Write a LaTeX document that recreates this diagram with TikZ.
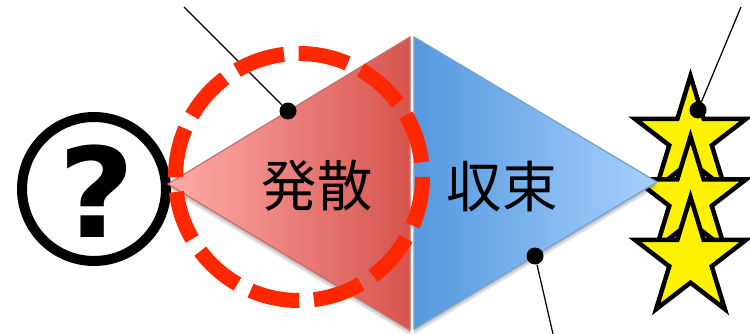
\documentclass[tikz,border=0pt]{standalone}
\usepackage{fontspec}
\newfontfamily\askfont[FakeStretch=1.06]{DejaVu Sans}
\newfontfamily\cjkfont{Noto Sans CJK JP}
\usetikzlibrary{shapes.geometric}
\begin{document}
\begin{tikzpicture}
[x=.02cm,y=-.02cm,
    vertex/.style={shape=circle,fill=black,inner sep=0pt,minimum size=.34cm},
    leader/.style={black,line width=.25mm},
    starnode/.style={star,star points=5,star point ratio=2.618,draw=black,fill=yellow,
        line width=.9mm,inner sep=0pt,minimum size=2.34cm,yscale=1.06,transform shape},
    asknode/.style={circle,draw=black,line width=2mm,inner sep=0pt,minimum size=2.88cm,
        font=\askfont\bfseries\fontsize{71}{71}\selectfont},
    wordnode/.style={inner sep=0pt,font=\cjkfont\fontsize{31.5}{31.5}\selectfont},
    ring/.style={draw={rgb,255:red,255;green,40;blue,0},line width=3mm,dash pattern=on 1cm off .293cm}]
\useasboundingbox (0,0) rectangle (750,334);
%%%%%%%%%%
%% question mark and stars
\node[asknode] (ask) at (94,189) {\kern.1cm\raisebox{-.98cm}[1cm][1cm]{?}};
\node[starnode] (star1) at (690.5,138) {};
\node[starnode] (star2) at (690.5,198.5) {};
\node[starnode] (star3) at (690.5,259) {};
%% soft shadows
\foreach \d in {1,2,3,4,5,6}
    \fill[black,opacity=.05] (168,184+\d) -- (410,37+\d) -- (410,330+\d) -- cycle;
\foreach \d in {1,2,3,4,5,6}
    \fill[black,opacity=.05] (657,182+\d) -- (414,37+\d) -- (414,329+\d) -- cycle;
%% triangles
\path[draw={rgb,255:red,205;green,110;blue,105},line width=.25mm,
    left color={rgb,255:red,255;green,172;blue,170},right color={rgb,255:red,214;green,84;blue,78}]
    (168,184) -- (410,37) -- (410,330) -- cycle;
\path[draw={rgb,255:red,120;green,160;blue,205},line width=.25mm,
    left color={rgb,255:red,84;green,153;blue,222},right color={rgb,255:red,168;green,208;blue,255}]
    (657,182) -- (414,37) -- (414,329) -- cycle;
%% labels
\node[wordnode] (spread) at (317,186) {発散};
\node[wordnode] (focus) at (502,186) {収束};
%% leaders
\coordinate (endA) at (184,7);
\coordinate (endB) at (741,7);
\coordinate (endC) at (553,334);
\node[vertex] (dotA) at (288,111) {};
\node[vertex] (dotB) at (698,110) {};
\node[vertex] (dotC) at (535,256) {};
\draw[leader] (dotA) -- (endA);
\draw[leader] (dotB) -- (endB);
\draw[leader] (dotC) -- (endC);
%% dashed circle
\draw[ring] (299,53.5) arc[start angle=-90,delta angle=360,radius=123.5];
\end{tikzpicture}
\end{document}
